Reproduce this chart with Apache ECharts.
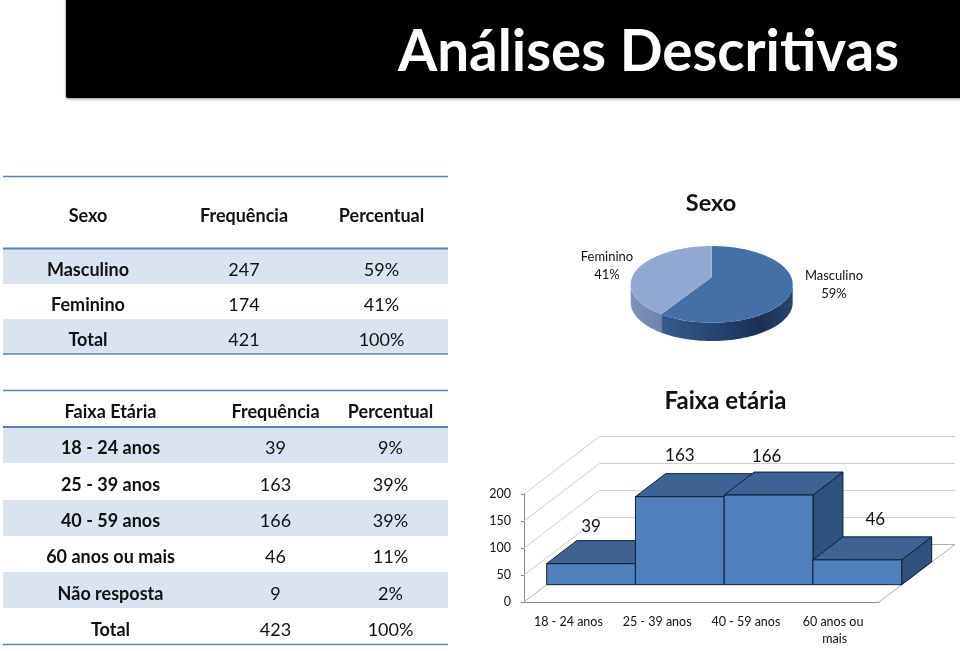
<!DOCTYPE html>
<html><head><meta charset="utf-8">
<style>html,body{margin:0;padding:0;background:#fff}#c{width:960px;height:651px}</style>
<script src="https://cdn.jsdelivr.net/npm/echarts@6/dist/echarts.min.js"></script>
</head><body><div id="c"></div>
<script>
const pageTitle = 'Análises Descritivas';
const sexoHeader = ['Sexo', 'Frequência', 'Percentual'];
const sexoLabels = ['Masculino', 'Feminino', 'Total'];
const sexoFreq = ['247', '174', '421'];
const sexoPct = ['59%', '41%', '100%'];
const faixaHeader = ['Faixa Etária', 'Frequência', 'Percentual'];
const faixaLabels = ['18 - 24 anos', '25 - 39 anos', '40 - 59 anos', '60 anos ou mais', 'Não resposta', 'Total'];
const faixaFreq = ['39', '163', '166', '46', '9', '423'];
const faixaPct = ['9%', '39%', '39%', '11%', '2%', '100%'];
const pieNames = ['Masculino', 'Feminino'];
const pieValues = [59, 41];
const barCategories = ['18 - 24 anos', '25 - 39 anos', '40 - 59 anos', '60 anos ou mais'];
const barValues = [39, 163, 166, 46];
const valueTicks = [0, 50, 100, 150, 200];

const FONT = 'Lato';
const TXT = '#111';
const els = [];
function text(s, x, y, size, bold, fill) {
  els.push({type:'text', x, y, silent:true, z:5, style:{text:s, fontFamily:FONT, fontSize:size, fontWeight:bold?'bold':'normal', fill:fill||TXT, align:'center', verticalAlign:'middle'}});
}
function rect(x, y, w, h, fill) { els.push({type:'rect', silent:true, z:1, shape:{x,y,width:w,height:h}, style:{fill}}); }
function rule(y, lw) { els.push({type:'line', silent:true, z:3, shape:{x1:3,y1:y,x2:448,y2:y}, style:{stroke:'#5c82b3', lineWidth:lw}}); }

// banner
els.push({type:'rect', silent:true, z:1, shape:{x:66,y:-6,width:900,height:104,r:2}, style:{fill:'#000', shadowBlur:3, shadowColor:'#888', shadowOffsetY:1}});
text(pageTitle, 648.5, 53, 56.5, true, '#fff');

// table helper
const TS = 18;
function table(cols, header, headerY, rowY, bandTop, bandH, labels, freq, pct, lines) {
  header.forEach((h,i)=>text(h, cols[i], headerY, TS, true));
  labels.forEach((l,i)=>{
    if (i%2===0) rect(3, bandTop[i], 445, bandH, '#dae4f1');
    text(l, cols[0], rowY[i], TS, true);
    text(freq[i], cols[1], rowY[i], TS, false);
    text(pct[i], cols[2], rowY[i], TS, false);
  });
  lines.forEach(l=>rule(l[0], l[1]));
}
table([88,244,381.5], sexoHeader, 216, [270,305,340], [249,0,319], 35, sexoLabels, sexoFreq, sexoPct, [[176.5,1.5],[248.5,2],[354,1.5]]);
table([110.5,275.5,390.5], faixaHeader, 412, [448,485,521,557,594,630], [427,0,500,0,572,0], 36, faixaLabels, faixaFreq, faixaPct, [[390.5,1.5],[427,2],[644.5,1.5]]);

// chart headings
text('Sexo', 711, 203, 23.5, true);
text('Faixa etária', 725.5, 401, 24, true);

// pie geometry (perspective projected disc)
const P = {cx:711.7, cy:277.3, R:79.6, H:37.06, p:0.184, depth:18.3};
function project(deg, down) {
  const t = deg*Math.PI/180, u = Math.sin(t), v = -Math.cos(t), s = 1/(1-P.p*v);
  return [P.cx + P.R*u*s, P.cy + P.H*v*s + (down||0)];
}
function arc(a, b, down) {
  const pts = [], n = Math.max(2, Math.ceil(Math.abs(b-a)/2));
  for (let i=0;i<=n;i++) pts.push(project(a+(b-a)*i/n, down));
  return pts;
}
const pieTop = ['#4470a8', '#93a8d0'];
const pieSide = [
  [[0,'#345c8f'],[0.45,'#24426c'],[0.75,'#1b3152'],[1,'#27456e']],
  [[0,'#8093b6'],[1,'#6e84a8']]
];
const pieLabelPos = [[834,285],[607,266]];
const sideFrom = 100.6, sideTo = 259.4;
function renderPie(params, api) {
  const i = params.dataIndex, total = pieValues.reduce((a,b)=>a+b,0);
  let start = 0; for (let k=0;k<i;k++) start += pieValues[k];
  const a = start/total*360, b = (start+api.value(0))/total*360;
  const children = [];
  const sa = Math.max(a, sideFrom), sb = Math.min(b, sideTo);
  if (sb > sa) {
    const pts = arc(sa, sb, 0).concat(arc(sb, sa, P.depth));
    children.push({type:'polygon', shape:{points:pts}, style:{fill:{type:'linear',x:0,y:0,x2:1,y2:0,colorStops:pieSide[i].map(s=>({offset:s[0],color:s[1]}))}}});
  }
  children.push({type:'polygon', shape:{points:[[P.cx,P.cy]].concat(arc(a,b,0))}, style:{fill:pieTop[i]}});
  children.push({type:'text', x:pieLabelPos[i][0], y:pieLabelPos[i][1], style:{text:pieNames[i]+'\n'+api.value(0)+'%', fontFamily:FONT, fontSize:13, lineHeight:18, fill:TXT, align:'center', verticalAlign:'middle'}});
  return {type:'group', children};
}

// 3D offsets of the bar chart
const wallDX = 75.5, wallDY = -57.5, wallRight = 955;
const barDX = 22.7, barDY = -17.3, topDX = 30, topDY = -23;
const labelDX = [0,0,-2,18], labelDY = [-37,-41,-39,-40];
function renderWall(params, api) {
  const cs = params.coordSys, v = api.value(1), y = api.coord([0,v])[1];
  const ch = [{type:'polyline', shape:{points:[[cs.x,y],[cs.x+wallDX,y+wallDY],[wallRight,y+wallDY]]}, style:{fill:'none', stroke:v===0?'#b0b0b0':'#cfcfcf', lineWidth:1}}];
  if (v===0) ch.push({type:'line', shape:{x1:cs.x+cs.width,y1:y,x2:wallRight,y2:y+wallDY}, style:{stroke:'#b0b0b0', lineWidth:1}});
  return {type:'group', children:ch};
}
function renderBar(params, api) {
  const i = params.dataIndex, v = api.value(1);
  const c = api.coord([i,v]), b = api.coord([i,0]), w = api.size([1,0])[0];
  const x0 = c[0]-w/2+barDX, x1 = x0+w, yt = c[1]+barDY, yb = b[1]+barDY;
  const edge = {stroke:'#0d1f38', lineWidth:1, lineJoin:'round'};
  return {type:'group', children:[
    {type:'polygon', shape:{points:[[x1,yt],[x1+topDX,yt+topDY],[x1+topDX,yb+topDY],[x1,yb]]}, style:Object.assign({fill:'#30517c'},edge)},
    {type:'polygon', shape:{points:[[x0,yt],[x0+topDX,yt+topDY],[x1+topDX,yt+topDY],[x1,yt]]}, style:Object.assign({fill:'#3e6293'},edge)},
    {type:'rect', shape:{x:x0,y:yt,width:w,height:yb-yt}, style:Object.assign({fill:'#4f7fbc'},edge)},
    {type:'text', x:c[0]+barDX+labelDX[i], y:yt+labelDY[i], z2:10, style:{text:String(v), fontFamily:FONT, fontSize:17, fill:TXT, align:'center', verticalAlign:'middle'}}
  ]};
}

const chart = echarts.init(document.getElementById('c'), null, {renderer:'canvas'});
chart.setOption({
  animation:false,
  backgroundColor:'#fff',
  graphic:{elements:els},
  grid:{left:524, right:81, top:494, bottom:49, containLabel:false},
  xAxis:{type:'category', data:barCategories, boundaryGap:true,
    axisLine:{lineStyle:{color:'#8a8a8a'}}, axisTick:{length:3, lineStyle:{color:'#8a8a8a'}, alignWithLabel:false},
    axisLabel:{interval:0, color:TXT, fontFamily:FONT, fontSize:12.5, margin:11, width:82, overflow:'break', lineHeight:17}},
  yAxis:{type:'value', min:0, max:200, interval:50, splitLine:{show:false},
    axisLine:{show:true, lineStyle:{color:'#8a8a8a'}}, axisTick:{show:true, length:3, lineStyle:{color:'#8a8a8a'}},
    axisLabel:{color:TXT, fontFamily:FONT, fontSize:12.5, margin:13}},
  series:[
    {type:'custom', name:'grade', coordinateSystem:'cartesian2d', silent:true, z:1, clip:false, renderItem:renderWall,
     data:valueTicks.map(v=>[0,v]), encode:{x:0,y:1}},
    {type:'custom', name:'Faixa etária', coordinateSystem:'cartesian2d', z:2, clip:false, renderItem:renderBar,
     data:barValues.map((v,i)=>[i,v]), encode:{x:0,y:1}},
    {type:'custom', name:'Sexo', coordinateSystem:'none', z:2, renderItem:renderPie, data:pieValues.map(v=>[v])}
  ]
});
</script></body></html>
